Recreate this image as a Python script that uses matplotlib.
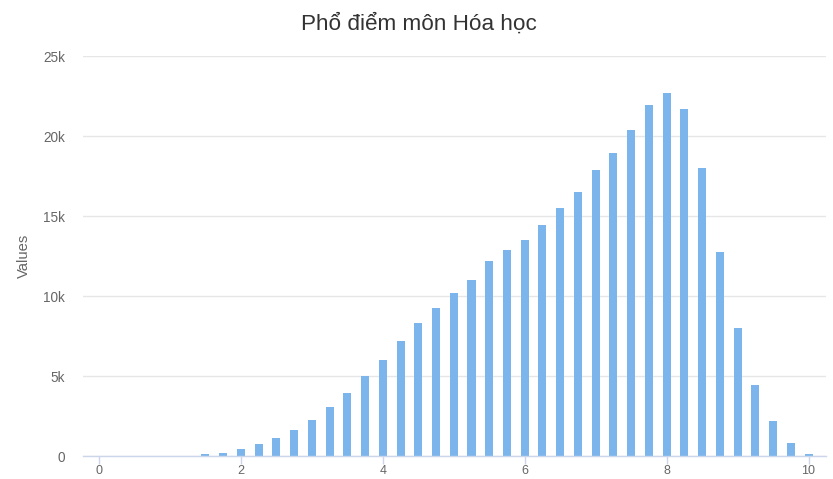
import matplotlib
matplotlib.use("Agg")
import matplotlib.pyplot as plt
import numpy as np

plt.rcParams['font.family'] = ['Liberation Sans', 'DejaVu Sans']

# score steps of 0.25 from 0 to 10
scores = [i * 0.25 for i in range(41)]
counts = [2, 0, 1, 3, 8, 20, 100, 190, 420, 750, 1130, 1600, 2230, 3090, 3960,
          4970, 5980, 7170, 8330, 9270, 10200, 11000, 12170, 12860, 13480, 14420,
          15500, 16530, 17900, 18960, 20400, 21940, 22700, 21700, 18020, 12780,
          8020, 4440, 2190, 830, 100]
yticks = [0, 5000, 10000, 15000, 20000, 25000]
ytick_labels = ['0', '5k', '10k', '15k', '20k', '25k']
xticks = [0, 2, 4, 6, 8, 10]

fig = plt.figure(figsize=(8.33, 4.79), dpi=100)
ax = fig.add_axes([82.5 / 833, 23 / 479, 743.5 / 833, 400 / 479])

ax.bar(scores, counts, width=0.113, color='#7cb5ec', zorder=3)

ax.set_xlim(-0.232, 10.246)
ax.set_ylim(0, 25000)
ax.set_yticks(yticks)
ax.set_yticklabels(ytick_labels)
ax.set_xticks(xticks)
ax.set_xticklabels([str(x) for x in xticks])

# gridlines like highcharts
ax.grid(axis='y', color='#e6e6e6', linewidth=1, zorder=0)
for s in ['top', 'right', 'left']:
    ax.spines[s].set_visible(False)
ax.spines['bottom'].set_color('#ccd6eb')
ax.spines['bottom'].set_linewidth(1)
ax.spines['bottom'].set_zorder(4)

ax.tick_params(axis='y', length=0, pad=12.5, labelsize=9.8, labelcolor='#666666')
ax.tick_params(axis='x', length=6, width=1, color='#ccd6eb', pad=0.3,
               labelsize=9, labelcolor='#666666')

ax.set_ylabel('Values', fontsize=10.6, color='#666666', labelpad=9)
fig.text(0.503, 1 - 29.5 / 479, 'Phổ điểm môn Hóa học', ha='center', va='baseline',
         fontsize=16.2, color='#333333')

fig.savefig('out.png', dpi=100)
